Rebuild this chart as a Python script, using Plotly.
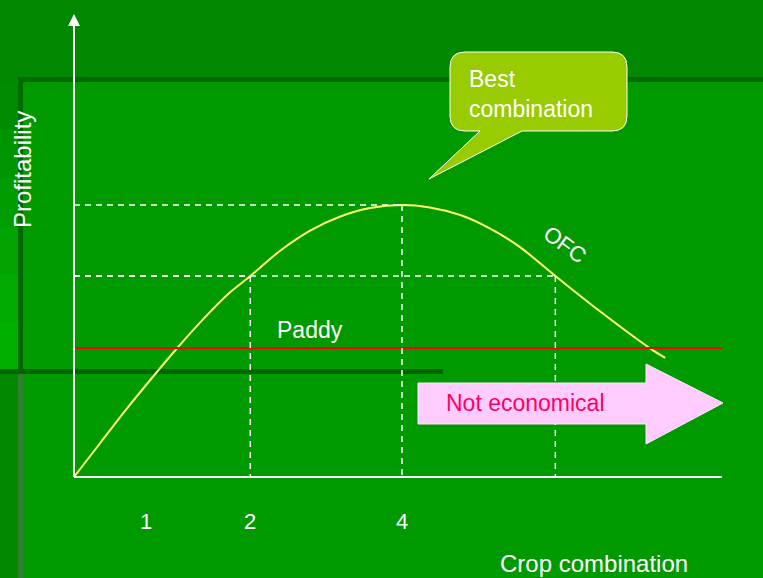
import plotly.graph_objects as go

# ---- data ----
curve_x = [0, 0.32, 0.63, 0.95, 1.27, 1.59, 1.88, 2.15, 2.51, 2.88, 3.24, 3.61,
           4.0, 4.34, 4.71, 5.07, 5.44, 5.87, 6.41, 7.02, 7.21]
curve_y = [0, 1.25, 2.46, 3.64, 4.78, 5.85, 6.73, 7.39, 8.31, 9.06, 9.57, 9.89,
           10.0, 9.91, 9.63, 9.14, 8.45, 7.39, 6.10, 4.74, 4.38]
paddy_level = 4.74
paddy_x_end = 7.9
key_x = [2.15, 4.0, 5.87]
key_y = [7.39, 10.0, 7.39]
tick_pos = [0.88, 2.15, 4.0]
tick_text = ["1", "2", "4"]
x_axis_end = 7.9
y_axis_top = 17.02

W, H = 763, 578
X0, Y0, SX, SY = 74, 477, 82.0, 27.2
FONT = "Liberation Sans, Arial, sans-serif"


def px(x):
    return x / W


def py(y):
    return 1 - y / H


def P(a, b):
    return f"{px(a):.5f},{py(b):.5f}"


fig = go.Figure()

# yellow OFC curve
fig.add_trace(go.Scatter(x=curve_x, y=curve_y, mode="lines",
                         line=dict(color="#FFFF66", width=2, shape="spline", smoothing=0.8),
                         hoverinfo="skip"))
# paddy red line
fig.add_trace(go.Scatter(x=[0, paddy_x_end], y=[paddy_level, paddy_level], mode="lines",
                         line=dict(color="#FF0000", width=2), hoverinfo="skip"))
# dashed guide lines
for kx, ky in zip(key_x, key_y):
    fig.add_trace(go.Scatter(x=[0, kx], y=[ky, ky], mode="lines",
                             line=dict(color="white", width=1.5, dash="6px,5px"),
                             hoverinfo="skip"))
    fig.add_trace(go.Scatter(x=[kx, kx], y=[ky, 0], mode="lines",
                             line=dict(color="white", width=1.5, dash="6px,5px"),
                             hoverinfo="skip"))
# axes
fig.add_trace(go.Scatter(x=[0, x_axis_end], y=[0, 0], mode="lines",
                         line=dict(color="white", width=2), hoverinfo="skip"))
fig.add_trace(go.Scatter(x=[0, 0], y=[0, y_axis_top - 0.3], mode="lines",
                         line=dict(color="white", width=2), hoverinfo="skip"))

shapes = []
# textured panel
shapes.append(dict(type="rect", xref="paper", yref="paper", x0=px(18), x1=1, y0=0, y1=py(77),
                   fillcolor="#009A00", line=dict(width=0), layer="below"))
# top dark edge
shapes.append(dict(type="rect", xref="paper", yref="paper", x0=px(18), x1=1, y0=py(82), y1=py(77),
                   fillcolor="#006A00", line=dict(width=0), layer="below"))
# left bright strip (gradient steps)
steps = ["#008C00", "#009400", "#009C00", "#00A300", "#00AA00", "#00B000"]
top, bot = 82, 369
h = (bot - top) / len(steps)
for i, c in enumerate(steps):
    shapes.append(dict(type="rect", xref="paper", yref="paper", x0=0, x1=px(18),
                       y0=py(top + (i + 1) * h), y1=py(top + i * h),
                       fillcolor=c, line=dict(width=0), layer="below"))
# left edge bands
shapes.append(dict(type="rect", xref="paper", yref="paper", x0=px(18), x1=px(23), y0=py(369), y1=py(80),
                   fillcolor="#006A00", line=dict(width=0), layer="below"))
shapes.append(dict(type="rect", xref="paper", yref="paper", x0=px(18), x1=px(23), y0=0, y1=py(374),
                   fillcolor="#2F7F2F", line=dict(width=0), layer="below"))
# horizontal dark band
shapes.append(dict(type="rect", xref="paper", yref="paper", x0=0, x1=px(443), y0=py(374), y1=py(369),
                   fillcolor="#006600", line=dict(width=0), layer="below"))

# callout balloon (rounded rect with tail)
L, R, T, B, r = 450, 627, 52, 131, 15
balloon = (f"M {P(L + r, T)} L {P(R - r, T)} Q {P(R, T)} {P(R, T + r)} "
           f"L {P(R, B - r)} Q {P(R, B)} {P(R - r, B)} L {P(522, B)} L {P(429, 179)} "
           f"L {P(480, B)} L {P(L + r, B)} Q {P(L, B)} {P(L, B - r)} "
           f"L {P(L, T + r)} Q {P(L, T)} {P(L + r, T)} Z")
shapes.append(dict(type="path", xref="paper", yref="paper", path=balloon,
                   fillcolor="#99CC00", line=dict(color="white", width=1), layer="above"))
# block arrow
arrow_pts = [(418, 383), (646, 383), (646, 364), (723, 403), (646, 444), (646, 424), (418, 424)]
arrow = "M " + " L ".join(P(a, b) for a, b in arrow_pts) + " Z"
shapes.append(dict(type="path", xref="paper", yref="paper", path=arrow,
                   fillcolor="#FFCCFF", line=dict(color="#FFE6FF", width=1), layer="above"))

ann = []
# y-axis arrowhead
ann.append(dict(x=0, y=y_axis_top, ax=0, ay=y_axis_top - 2, xref="x", yref="y",
                axref="x", ayref="y", showarrow=True, arrowhead=2, arrowsize=1.2,
                arrowwidth=2, arrowcolor="white", text=""))
for tp, tt in zip(tick_pos, tick_text):
    ann.append(dict(x=tp, y=(Y0 - 521) / SY, xref="x", yref="y", text=tt, showarrow=False,
                    xanchor="center", yanchor="middle",
                    font=dict(family=FONT, size=22, color="white")))
ann.append(dict(x=px(594), y=py(563), xref="paper", yref="paper", text="Crop combination",
                xanchor="center", yanchor="middle",
                showarrow=False, font=dict(family=FONT, size=24, color="white")))
ann.append(dict(x=px(22), y=py(170), xref="paper", yref="paper", text="Profitability",
                xanchor="center", yanchor="middle",
                textangle=-90, showarrow=False, font=dict(family=FONT, size=24, color="white")))
ann.append(dict(x=(310 - X0) / SX, y=(Y0 - 330) / SY, xref="x", yref="y", text="Paddy",
                xanchor="center", yanchor="middle",
                showarrow=False, font=dict(family=FONT, size=23, color="white")))
ann.append(dict(x=(565 - X0) / SX, y=(Y0 - 244) / SY, xref="x", yref="y", text="OFC",
                xanchor="center", yanchor="middle",
                textangle=36, showarrow=False, font=dict(family=FONT, size=22, color="white")))
ann.append(dict(x=px(467), y=py(94), xref="paper", yref="paper", text="Best<br>combination",
                xanchor="left", yanchor="middle", align="left", showarrow=False,
                font=dict(family=FONT, size=23, color="white")))
ann.append(dict(x=px(525), y=py(403), xref="paper", yref="paper", text="Not economical",
                xanchor="center", yanchor="middle",
                showarrow=False, font=dict(family=FONT, size=23, color="#FF0066")))

fig.update_layout(
    width=W, height=H, margin=dict(l=0, r=0, t=0, b=0),
    paper_bgcolor="#008800", plot_bgcolor="rgba(0,0,0,0)",
    showlegend=False, shapes=shapes, annotations=ann,
    xaxis=dict(range=[(0 - X0) / SX, (W - X0) / SX], visible=False, fixedrange=True),
    yaxis=dict(range=[(Y0 - H) / SY, Y0 / SY], visible=False, fixedrange=True),
)
fig.write_html("out.html", config={"displayModeBar": False},
               post_script="document.body.style.margin='0';document.body.style.background='#008800';")
